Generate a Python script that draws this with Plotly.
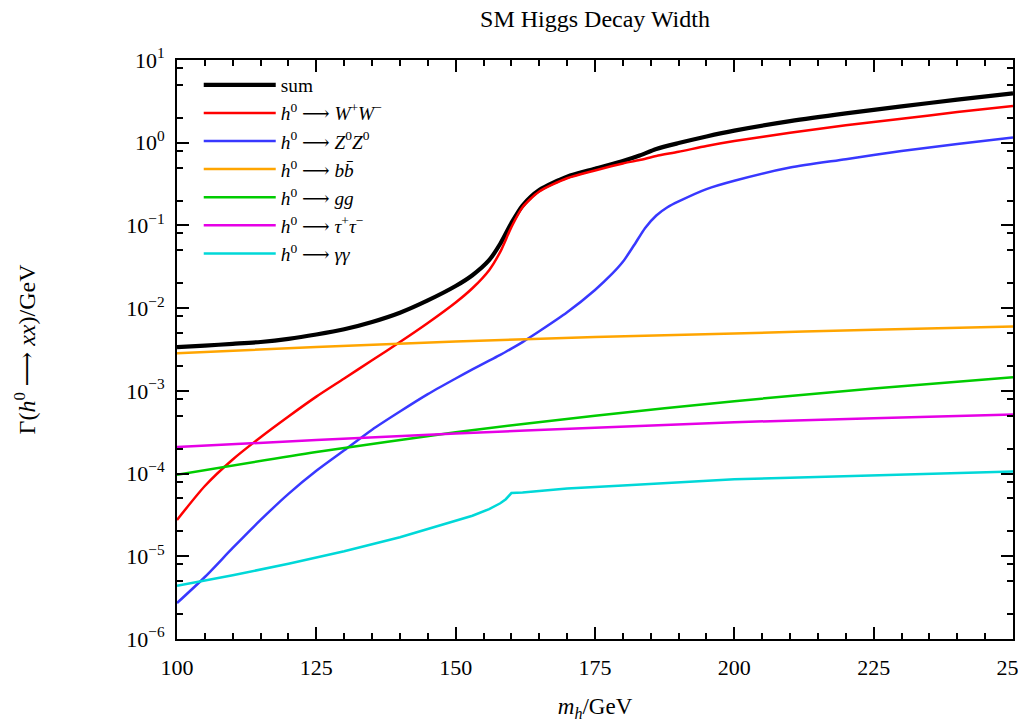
import plotly.graph_objects as go

# ---- data ----
mass = [100, 105, 110, 115, 120, 125, 130, 135, 140, 145, 150, 153, 156, 158,
        160, 162, 165, 170, 175, 180, 183, 186, 190, 195, 200, 210, 220, 230, 240, 250]

gamma_sum = [3.37e-3, 3.52e-3, 3.70e-3, 3.90e-3, 4.25e-3, 4.80e-3, 5.55e-3, 6.80e-3,
             8.80e-3, 1.24e-2, 1.85e-2, 2.50e-2, 3.80e-2, 6.00e-2, 1.07e-1, 1.74e-1,
             2.68e-1, 3.88e-1, 4.84e-1, 6.00e-1, 7.00e-1, 8.40e-1, 9.90e-1, 1.19,
             1.40, 1.82, 2.26, 2.75, 3.32, 3.95]

gamma_ww = [2.75e-5, 7.08e-5, 1.48e-4, 2.75e-4, 4.90e-4, 8.51e-4, 1.41e-3, 2.34e-3,
            3.89e-3, 6.61e-3, 1.17e-2, 1.74e-2, 2.88e-2, 4.79e-2, 9.55e-2, 1.66e-1,
            2.57e-1, 3.72e-1, 4.62e-1, 5.62e-1, 6.17e-1, 6.92e-1, 7.76e-1, 9.12e-1,
            1.047, 1.318, 1.622, 1.950, 2.344, 2.78]

mass_zz = [100, 105, 110, 115, 120, 125, 130, 135, 140, 145, 150, 153, 156, 158,
           160, 162, 165, 170, 175, 178, 180, 182, 184, 186, 188, 190, 195, 200,
           210, 220, 230, 240, 250]
gamma_zz = [2.72e-6, 5.62e-6, 1.26e-5, 2.75e-5, 5.69e-5, 1.08e-4, 1.91e-4, 3.39e-4,
            5.62e-4, 9.12e-4, 1.41e-3, 1.82e-3, 2.32e-3, 2.72e-3, 3.24e-3, 3.89e-3,
            5.25e-3, 8.91e-3, 1.66e-2, 2.57e-2, 3.63e-2, 5.75e-2, 9.33e-2, 1.32e-1,
            1.66e-1, 1.95e-1, 2.75e-1, 3.47e-1, 5.01e-1, 6.31e-1, 7.94e-1, 9.66e-1, 1.16]

mass_coarse = [100, 125, 150, 175, 200, 225, 250]
gamma_bb = [2.85e-3, 3.39e-3, 3.94e-3, 4.47e-3, 4.95e-3, 5.47e-3, 5.98e-3]
gamma_gg = [9.66e-5, 1.82e-4, 3.16e-4, 5.01e-4, 7.50e-4, 1.07e-3, 1.46e-3]
gamma_tautau = [2.09e-4, 2.54e-4, 3.05e-4, 3.59e-4, 4.17e-4, 4.68e-4, 5.18e-4]

mass_aa = [100, 110, 120, 130, 140, 145, 150, 153, 156, 158, 159, 159.5, 160, 162,
           165, 170, 180, 190, 200, 210, 220, 230, 240, 250]
gamma_aa = [4.41e-6, 5.89e-6, 8.13e-6, 1.15e-5, 1.70e-5, 2.14e-5, 2.69e-5, 3.09e-5,
            3.72e-5, 4.37e-5, 4.90e-5, 5.37e-5, 5.81e-5, 5.92e-5, 6.17e-5, 6.61e-5,
            7.16e-5, 7.76e-5, 8.51e-5, 8.91e-5, 9.33e-5, 9.77e-5, 1.02e-4, 1.06e-4]

y_exponents = [-6, -5, -4, -3, -2, -1, 0, 1]
x_ticks = [100, 125, 150, 175, 200, 225, 250]

# ---- figure ----
H0 = "<i>h</i><sup>0</sup> ⟶ "
series = [
    ("sum", mass, gamma_sum, "#000000", 4.2, "spline"),
    (H0 + "<i>W</i><sup>+</sup><i>W</i><sup>−</sup>", mass, gamma_ww, "#ff0000", 2.5, "spline"),
    (H0 + "<i>Z</i><sup>0</sup><i>Z</i><sup>0</sup>", mass_zz, gamma_zz, "#3838ff", 2.5, "spline"),
    (H0 + "<i>b</i><i>b̄</i>", mass_coarse, gamma_bb, "#ffa500", 2.5, "spline"),
    (H0 + "<i>gg</i>", mass_coarse, gamma_gg, "#00cc00", 2.5, "spline"),
    (H0 + "<i>τ</i><sup>+</sup><i>τ</i><sup>−</sup>", mass_coarse, gamma_tautau, "#e600e6", 2.5, "spline"),
    (H0 + "<i>γγ</i>", mass_aa, gamma_aa, "#00d8d8", 2.5, "linear"),
]

fig = go.Figure()
for name, xs, ys, col, w, shape in series:
    line = dict(color=col, width=w, shape=shape)
    if shape == "spline":
        line["smoothing"] = 0.7
    fig.add_trace(go.Scatter(x=xs, y=ys, mode="lines", name=name, line=line))

font_family = "Liberation Serif, DejaVu Serif, serif"

y_minor = []
for e in y_exponents[:-1]:
    for m in (2, 5, 8):
        y_minor.append(m * 10.0 ** e)

# the page body has an 8px margin, so the figure is sized 8px smaller
fig.update_layout(
    width=1018, height=714,
    margin=dict(l=169, r=13, t=52, b=83),
    paper_bgcolor="white", plot_bgcolor="white",
    font=dict(family=font_family, size=22, color="black"),
    title=dict(text="SM Higgs Decay Width", x=(169 + 418) / 1018, xanchor="center",
               y=1 - 11 / 714, yanchor="middle", font=dict(size=24)),
    showlegend=True,
    legend=dict(x=0.026, y=0.99, xanchor="left", yanchor="top",
                bgcolor="rgba(0,0,0,0)", font=dict(size=19.3),
                tracegroupgap=0, itemwidth=72),
)

fig.update_xaxes(
    range=[100, 250], showgrid=False, zeroline=False, automargin=False,
    showline=True, linecolor="black", linewidth=2, mirror="ticks",
    ticks="inside", ticklen=12, tickwidth=1.5, tickcolor="black",
    tickvals=x_ticks, ticktext=[str(v) for v in x_ticks], ticklabelstandoff=8,
    ticklabeloverflow="allow",
    minor=dict(dtick=5, ticks="inside", ticklen=6, tickwidth=1.5, tickcolor="black", showgrid=False),
    title=dict(text="<i>m<sub>h</sub></i>/GeV", standoff=20, font=dict(size=23)),
)

fig.update_yaxes(
    type="log", range=[-6, 1], showgrid=False, zeroline=False, automargin=False,
    showline=True, linecolor="black", linewidth=2, mirror="ticks",
    ticks="inside", ticklen=12, tickwidth=1.5, tickcolor="black",
    tickvals=[10.0 ** e for e in y_exponents],
    ticktext=["10<sup>%s</sup>" % str(e).replace("-", "−") for e in y_exponents],
    ticklabelstandoff=6,
    minor=dict(tickvals=y_minor, ticks="inside", ticklen=6, tickwidth=1.5, tickcolor="black", showgrid=False),
    title=dict(text="Γ(<i>h</i><sup>0</sup> ⟶ <i>xx</i>)/GeV", standoff=84, font=dict(size=24)),
)

fig.write_html("out.html")
